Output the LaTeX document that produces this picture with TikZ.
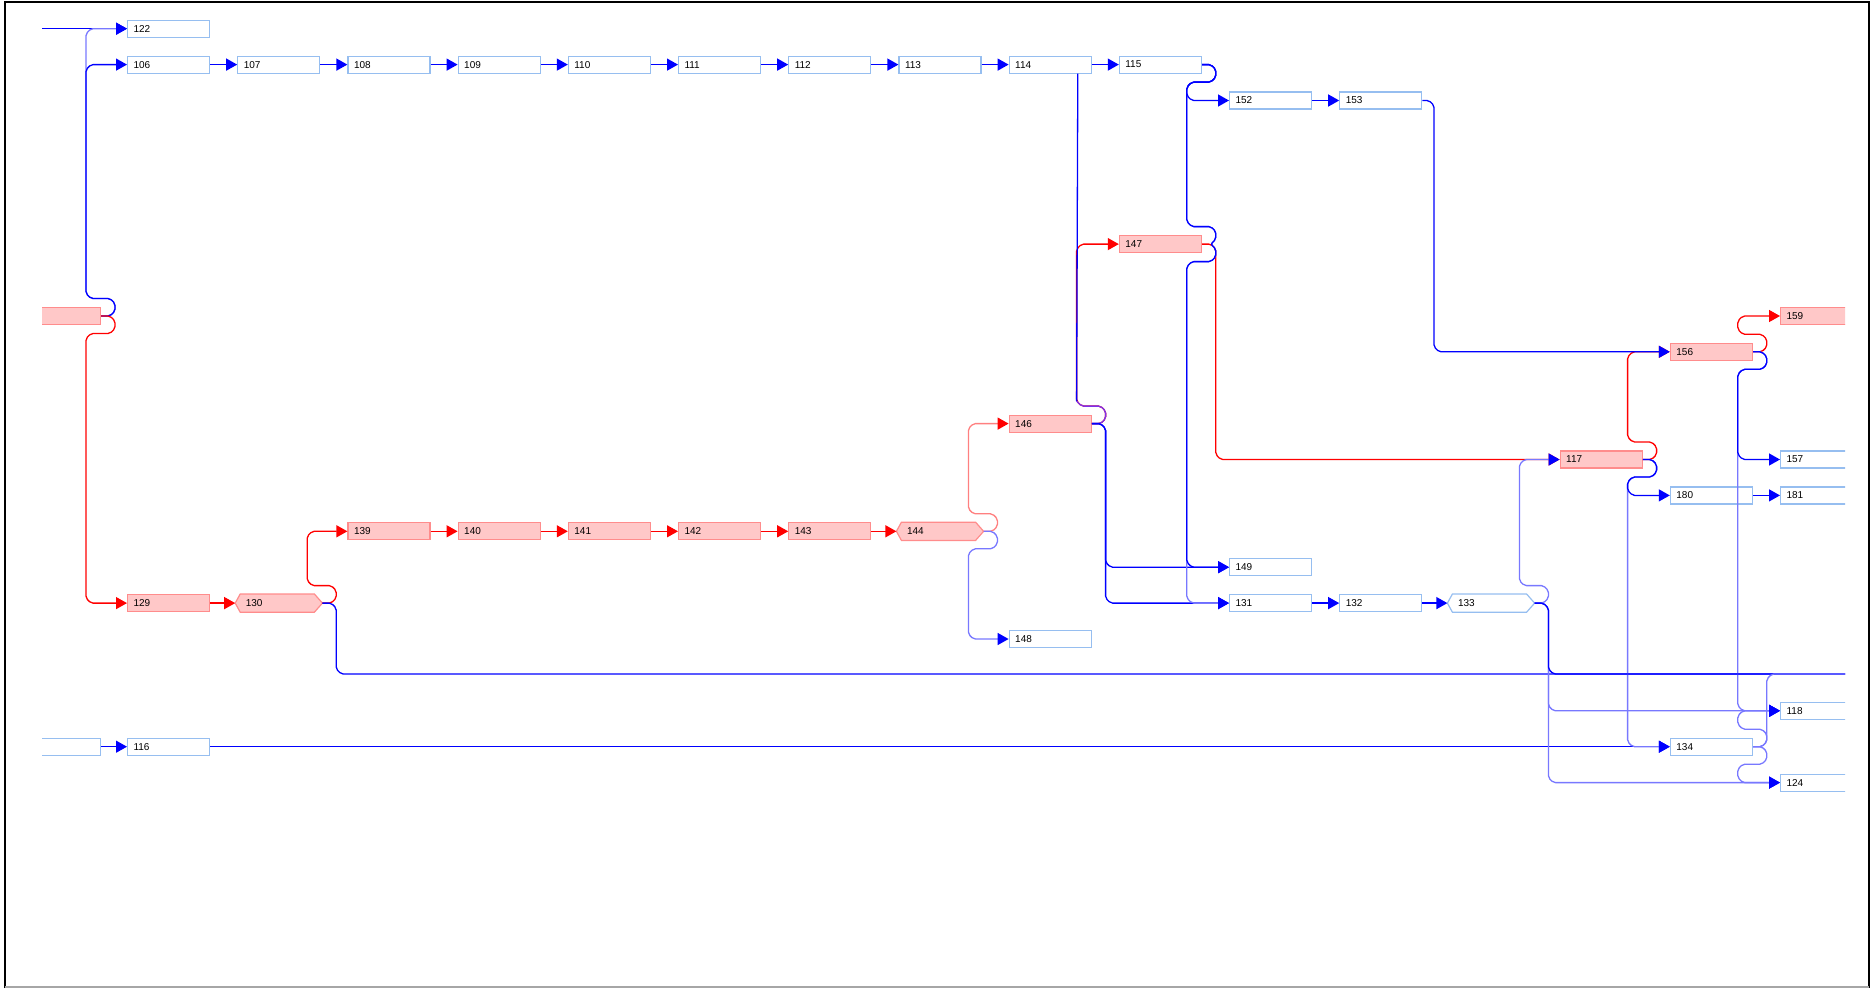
\documentclass[tikz,border=0pt]{standalone}
\usepackage{fontspec}
\setmainfont{Liberation Sans}
\usetikzlibrary{arrows.meta,calc,backgrounds}
\definecolor{cB}{RGB}{0,0,255}
\definecolor{cLB}{RGB}{120,120,255}
\definecolor{cR}{RGB}{255,0,0}
\definecolor{cLR}{RGB}{255,128,128}
\definecolor{cP}{RGB}{125,50,235}
\definecolor{boxB}{RGB}{150,190,240}
\definecolor{pinkF}{RGB}{255,200,200}
\definecolor{pinkD}{RGB}{255,140,140}
\tikzset{
  basebox/.style={minimum width=82pt,minimum height=17pt,inner ysep=0pt,inner xsep=6pt,
    text width=70pt,align=left,anchor=west,line width=1.2pt,
    font=\fontsize{10}{12}\selectfont},
  bb/.style={basebox,draw=boxB,fill=white},
  rb/.style={basebox,draw=pinkD,fill=pinkF},
  hexn/.style={basebox,minimum width=86pt,inner xsep=10pt,text width=66pt,draw=none},
  conn/.style={line width=1.3pt,rounded corners=2pt},
  bl/.style={conn,draw=cB},
  lbl/.style={conn,draw=cLB},
  rd/.style={conn,draw=cR},
  lrd/.style={conn,draw=cLR},
  arB/.style={-{Triangle[length=11pt,width=12pt,color=cB]}},
  arR/.style={-{Triangle[length=11pt,width=12pt,color=cR]}},
}
\newcommand{\hexshape}[3]{%
  \begin{pgfonlayer}{background}
  \filldraw[fill=#2,draw=#3,line width=1.2pt] (#1.west) -- ([xshift=5pt]#1.north west) -- ([xshift=-8pt]#1.north east) -- (#1.east) -- ([xshift=-8pt]#1.south east) -- ([xshift=5pt]#1.south west) -- cycle;
  \end{pgfonlayer}}
\begin{document}
\begin{tikzpicture}[x=1pt,y=-1pt]
\useasboundingbox (0,0) rectangle (1876,988);
\begin{scope}
\clip (42,0) rectangle (1845,988);
% ---------- boxes ----------
\node[bb] (n122) at (127,28.7) {122};
\node[bb] (n106) at (127,64.6) {106};
\node[bb] (n107) at (237.2,64.6) {107};
\node[bb] (n108) at (347.4,64.6) {108};
\node[bb] (n109) at (457.6,64.6) {109};
\node[bb] (n110) at (567.8,64.6) {110};
\node[bb] (n111) at (678,64.6) {111};
\node[bb] (n112) at (788.2,64.6) {112};
\node[bb] (n113) at (898.4,64.6) {113};
\node[bb] (n114) at (1008.6,64.6) {114};
\node[bb] (n115) at (1118.8,64.6) {115};
\node[bb] (n152) at (1229,100.5) {152};
\node[bb] (n153) at (1339.2,100.5) {153};
\node[rb] (n147) at (1118.8,244.1) {147};
\node[rb] (nL8) at (18,316) {};
\node[rb] (n159) at (1780,316) {159};
\node[rb] (n156) at (1669.8,351.8) {156};
\node[rb] (n146) at (1008.6,423.6) {146};
\node[rb] (n117) at (1559.6,459.5) {117};
\node[bb] (n157) at (1780,459.5) {157};
\node[bb] (n180) at (1669.8,495.4) {180};
\node[bb] (n181) at (1780,495.4) {181};
\node[rb] (n139) at (347.4,531.3) {139};
\node[rb] (n140) at (457.6,531.3) {140};
\node[rb] (n141) at (567.8,531.3) {141};
\node[rb] (n142) at (678,531.3) {142};
\node[rb] (n143) at (788.2,531.3) {143};
\node[hexn] (n144) at (896.4,531.3) {144};
\hexshape{n144}{pinkF}{pinkD}
\node[bb] (n149) at (1229,567.2) {149};
\node[rb] (n129) at (127,603.1) {129};
\node[hexn] (n130) at (235.2,603.1) {130};
\hexshape{n130}{pinkF}{pinkD}
\node[bb] (n131) at (1229,603.1) {131};
\node[bb] (n132) at (1339.2,603.1) {132};
\node[hexn] (n133) at (1447.4,603.1) {133};
\hexshape{n133}{white}{boxB}
\node[bb] (n148) at (1008.6,639) {148};
\node[bb] (n118) at (1780,710.8) {118};
\node[bb] (nL20) at (18,746.7) {};
\node[bb] (n116) at (127,746.7) {116};
\node[bb] (n134) at (1669.8,746.7) {134};
\node[bb] (n124) at (1780,782.6) {124};
\coordinate (L122) at (42,28.7);
\coordinate (R18) at (1845,674);
\coordinate (t114) at ($(n114.south east)+(-14,0)$);
\coordinate (k146) at (1076.6,401.1);
% ---------- straight chains ----------
\foreach \a/\b in {106/107,107/108,108/109,109/110,110/111,111/112,112/113,113/114,114/115,152/153,131/132,132/133,180/181,116/134}
  \draw[bl,arB] (n\a.east) -- (n\b.west);
\foreach \a/\b in {129/130,139/140,140/141,141/142,142/143,143/144}
  \draw[rd,arR] (n\a.east) -- (n\b.west);
\draw[bl,arB] (nL20.east) -- (n116.west);
% ---------- left box ----------
\draw[bl,arB] (L122) -- (n122.west);
\draw[lbl,arB] (nL8.east) -- (110,316) -- (115,311) -- (115,303.5) -- (110,298.5) -- (91,298.5) -- (86,293.5) -- (86,33.7) -- (91,28.7) -- (n122.west);
\draw[bl,arB] (nL8.east) -- (110,316) -- (115,311) -- (115,303.5) -- (110,298.5) -- (91,298.5) -- (86,293.5) -- (86,69.6) -- (91,64.6) -- (n106.west);
\draw[rd,arR] (nL8.east) -- (110,316) -- (115,321) -- (115,328.5) -- (110,333.5) -- (91,333.5) -- (86,338.5) -- (86,598.1) -- (91,603.1) -- (n129.west);
% ---------- 130 ----------
\draw[rd,arR] (n130.east) -- (331.2,603.1) -- (336.2,598.1) -- (336.2,590.6) -- (331.2,585.6) -- (312.2,585.6) -- (307.2,580.6) -- (307.2,536.3) -- (312.2,531.3) -- (n139.west);
\draw[bl] (n130.east) -- (331.2,603.1) -- (336.2,608.1) -- (336.2,669) -- (341.2,674) -- (R18);
% ---------- 144 ----------
\draw[lrd,arR] (n144.east) -- (992.4,531.3) -- (997.4,526.3) -- (997.4,518.8) -- (992.4,513.8) -- (973.4,513.8) -- (968.4,508.8) -- (968.4,428.6) -- (973.4,423.6) -- (n146.west);
\draw[lbl,arB] (n144.east) -- (992.4,531.3) -- (997.4,536.3) -- (997.4,543.8) -- (992.4,548.8) -- (973.4,548.8) -- (968.4,553.8) -- (968.4,634) -- (973.4,639) -- (n148.west);
% ---------- 146 / 114 ----------
\draw[rd,arR] (n146.east) -- (1100.6,423.6) -- (1105.6,418.6) -- (1105.6,411.1) -- (1100.6,406.1) -- (1081.6,406.1) -- (1076.6,401.1) -- (1076.6,249.1) -- (1081.6,244.1) -- (n147.west);
\draw[bl] (t114) -- (k146);
\draw[conn,draw=cP] (k146) -- (1081.6,406.1) -- (1100.6,406.1) -- (1105.6,411.1) -- (1105.6,418.6) -- (1100.6,423.6) -- (n146.east);
\draw[bl,arB] (n146.east) -- (1100.6,423.6) -- (1105.6,428.6) -- (1105.6,598.1) -- (1110.6,603.1) -- (n131.west);
\draw[bl,arB] (n146.east) -- (1100.6,423.6) -- (1105.6,428.6) -- (1105.6,562.2) -- (1110.6,567.2) -- (n149.west);
% ---------- 147 ----------
\draw[rd,arR] (n147.east) -- (1210.8,244.1) -- (1215.8,249.1) -- (1215.8,454.5) -- (1220.8,459.5) -- (n117.west);
% ---------- 115 ----------
\draw[lbl,arB] (n115.east) -- (1210.8,64.6) -- (1215.8,69.6) -- (1215.8,77.1) -- (1210.8,82.1) -- (1191.8,82.1) -- (1186.8,87.1) -- (1186.8,221.6) -- (1191.8,226.6) -- (1210.8,226.6) -- (1215.8,231.6) -- (1215.8,239.1) -- (1210.8,244.1) -- (1215.8,249.1) -- (1215.8,256.6) -- (1210.8,261.6) -- (1191.8,261.6) -- (1186.8,266.6) -- (1186.8,598.1) -- (1191.8,603.1) -- (n131.west);
\draw[bl,arB] (n115.east) -- (1210.8,64.6) -- (1215.8,69.6) -- (1215.8,77.1) -- (1210.8,82.1) -- (1191.8,82.1) -- (1186.8,87.1) -- (1186.8,221.6) -- (1191.8,226.6) -- (1210.8,226.6) -- (1215.8,231.6) -- (1215.8,239.1) -- (1210.8,244.1) -- (1215.8,249.1) -- (1215.8,256.6) -- (1210.8,261.6) -- (1191.8,261.6) -- (1186.8,266.6) -- (1186.8,562.2) -- (1191.8,567.2) -- (n149.west);
\draw[bl,arB] (n115.east) -- (1210.8,64.6) -- (1215.8,69.6) -- (1215.8,77.1) -- (1210.8,82.1) -- (1191.8,82.1) -- (1186.8,87.1) -- (1186.8,95.5) -- (1191.8,100.5) -- (n152.west);
% ---------- 117 ----------
\draw[rd,arR] (n117.east) -- (1651.6,459.5) -- (1656.6,454.5) -- (1656.6,447) -- (1651.6,442) -- (1632.6,442) -- (1627.6,437) -- (1627.6,356.8) -- (1632.6,351.8) -- (n156.west);
\draw[lbl,arB] (n117.east) -- (1651.6,459.5) -- (1656.6,464.5) -- (1656.6,472) -- (1651.6,477) -- (1632.6,477) -- (1627.6,482) -- (1627.6,741.7) -- (1632.6,746.7) -- (n134.west);
\draw[bl,arB] (n117.east) -- (1651.6,459.5) -- (1656.6,464.5) -- (1656.6,472) -- (1651.6,477) -- (1632.6,477) -- (1627.6,482) -- (1627.6,490.4) -- (1632.6,495.4) -- (n180.west);
% ---------- 153 ----------
\draw[bl,arB] (n153.east) -- (1429,100.5) -- (1434,105.5) -- (1434,346.8) -- (1439,351.8) -- (n156.west);
% ---------- 156 ----------
\draw[rd,arR] (n156.east) -- (1761.8,351.8) -- (1766.8,346.8) -- (1766.8,339.3) -- (1761.8,334.3) -- (1742.8,334.3) -- (1737.8,329.3) -- (1737.8,321) -- (1742.8,316) -- (n159.west);
\draw[lbl,arB] (n156.east) -- (1761.8,351.8) -- (1766.8,356.8) -- (1766.8,364.3) -- (1761.8,369.3) -- (1742.8,369.3) -- (1737.8,374.3) -- (1737.8,705.8) -- (1742.8,710.8) -- (n118.west);
\draw[bl,arB] (n156.east) -- (1761.8,351.8) -- (1766.8,356.8) -- (1766.8,364.3) -- (1761.8,369.3) -- (1742.8,369.3) -- (1737.8,374.3) -- (1737.8,454.5) -- (1742.8,459.5) -- (n157.west);
% ---------- 133 ----------
\draw[lbl,arB] (n133.east) -- (1543.4,603.1) -- (1548.4,598.1) -- (1548.4,590.6) -- (1543.4,585.6) -- (1524.4,585.6) -- (1519.4,580.6) -- (1519.4,464.5) -- (1524.4,459.5) -- (n117.west);
\draw[lbl,arB] (n133.east) -- (1543.4,603.1) -- (1548.4,608.1) -- (1548.4,777.6) -- (1553.4,782.6) -- (n124.west);
\draw[lbl,arB] (n133.east) -- (1543.4,603.1) -- (1548.4,608.1) -- (1548.4,705.8) -- (1553.4,710.8) -- (n118.west);
\draw[bl] (n133.east) -- (1543.4,603.1) -- (1548.4,608.1) -- (1548.4,669) -- (1553.4,674) -- (R18);
% ---------- 134 ----------
\draw[lbl] (n134.east) -- (1761.8,746.7) -- (1766.8,741.7) -- (1766.8,679) -- (1771.8,674) -- (R18);
\draw[lbl,arB] (n134.east) -- (1761.8,746.7) -- (1766.8,741.7) -- (1766.8,734.2) -- (1761.8,729.2) -- (1742.8,729.2) -- (1737.8,724.2) -- (1737.8,715.8) -- (1742.8,710.8) -- (n118.west);
\draw[lbl,arB] (n134.east) -- (1761.8,746.7) -- (1766.8,751.7) -- (1766.8,759.2) -- (1761.8,764.2) -- (1742.8,764.2) -- (1737.8,769.2) -- (1737.8,777.6) -- (1742.8,782.6) -- (n124.west);
\end{scope}
% ---------- frame ----------
\draw[line width=2pt] (5,988) -- (5,1.5) -- (1868.5,1.5) -- (1868.5,988);
\draw[gray!70,line width=1.5pt] (5,987.2) -- (1868.5,987.2);
\end{tikzpicture}
\end{document}
